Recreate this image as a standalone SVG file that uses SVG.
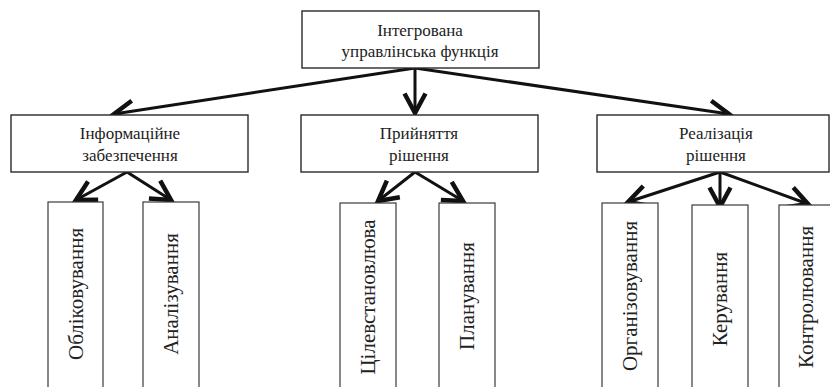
<svg xmlns="http://www.w3.org/2000/svg" width="830" height="387" viewBox="0 0 830 387">
<defs>
<style>
.box{fill:#fff;stroke:#2a2a2a;stroke-width:1.4}
.vbox{fill:#fff;stroke:#3a3a3a;stroke-width:1.2}
.t{font-family:'Liberation Serif','DejaVu Serif',serif;font-size:17px;fill:#222;text-anchor:middle}
.v{font-family:'Liberation Serif','DejaVu Serif',serif;font-size:21px;fill:#222;text-anchor:middle;dominant-baseline:central}
.c{fill:none;stroke:#111;stroke-width:3;marker-end:url(#ah)}
</style>
<marker id="ah" markerUnits="userSpaceOnUse" markerWidth="30" markerHeight="30" viewBox="-16 -10 20 20" refX="0" refY="0" orient="auto">
<path d="M-13,-7 L0,0 L-13,7" fill="none" stroke="#111" stroke-width="3" stroke-linejoin="miter"/>
</marker>
</defs>
<rect width="830" height="387" fill="#fff"/>
<g id="connectors">
<line class="c" x1="415" y1="68" x2="114" y2="114"/>
<line class="c" x1="415" y1="68" x2="415" y2="113"/>
<line class="c" x1="415" y1="68" x2="729" y2="114"/>
<line class="c" x1="127" y1="172" x2="76" y2="200"/>
<line class="c" x1="127" y1="172" x2="171" y2="200"/>
<line class="c" x1="415" y1="172" x2="378" y2="201"/>
<line class="c" x1="415" y1="172" x2="463" y2="201"/>
<line class="c" x1="720" y1="172" x2="628" y2="202"/>
<line class="c" x1="720" y1="172" x2="720" y2="207"/>
<line class="c" x1="720" y1="172" x2="808" y2="204"/>
</g>
<g id="top">
<rect class="box" x="302" y="11" width="237" height="57"/>
<text class="t" x="420" y="36" font-family="Liberation Serif">Інтегрована</text>
<text class="t" x="420" y="57" font-family="Liberation Serif">управлінська функція</text>
</g>
<g id="info">
<rect class="box" x="11" y="115" width="237" height="57"/>
<text class="t" x="130" y="139">Інформаційне</text>
<text class="t" x="130" y="161">забезпечення</text>
</g>
<g id="decision">
<rect class="box" x="301" y="115" width="237" height="57"/>
<text class="t" x="419" y="139">Прийняття</text>
<text class="t" x="419" y="161">рішення</text>
</g>
<g id="realization">
<rect class="box" x="597" y="115" width="232" height="57"/>
<text class="t" x="716" y="139">Реалізація</text>
<text class="t" x="716" y="161">рішення</text>
</g>
<g id="accounting">
<rect class="vbox" x="48" y="202" width="55" height="200"/>
<text class="v" transform="translate(76,294) rotate(-90)">Обліковування</text>
</g>
<g id="analysis">
<rect class="vbox" x="143" y="202" width="56" height="200"/>
<text class="v" transform="translate(171,294) rotate(-90)">Аналізування</text>
</g>
<g id="goalsetting">
<rect class="vbox" x="340" y="203" width="56" height="200"/>
<text class="v" transform="translate(368,297) rotate(-90)">Цілевстановлюва</text>
</g>
<g id="planning">
<rect class="vbox" x="439" y="203" width="56" height="200"/>
<text class="v" transform="translate(467,296) rotate(-90)">Планування</text>
</g>
<g id="organizing">
<rect class="vbox" x="602" y="203" width="56" height="200"/>
<text class="v" transform="translate(630,296) rotate(-90)">Організовування</text>
</g>
<g id="managing">
<rect class="vbox" x="692" y="205" width="56" height="200"/>
<text class="v" transform="translate(720,299) rotate(-90)">Керування</text>
</g>
<g id="controlling">
<rect class="vbox" x="779" y="205" width="60" height="200"/>
<text class="v" transform="translate(806,297) rotate(-90)">Контролювання</text>
</g>
</svg>
